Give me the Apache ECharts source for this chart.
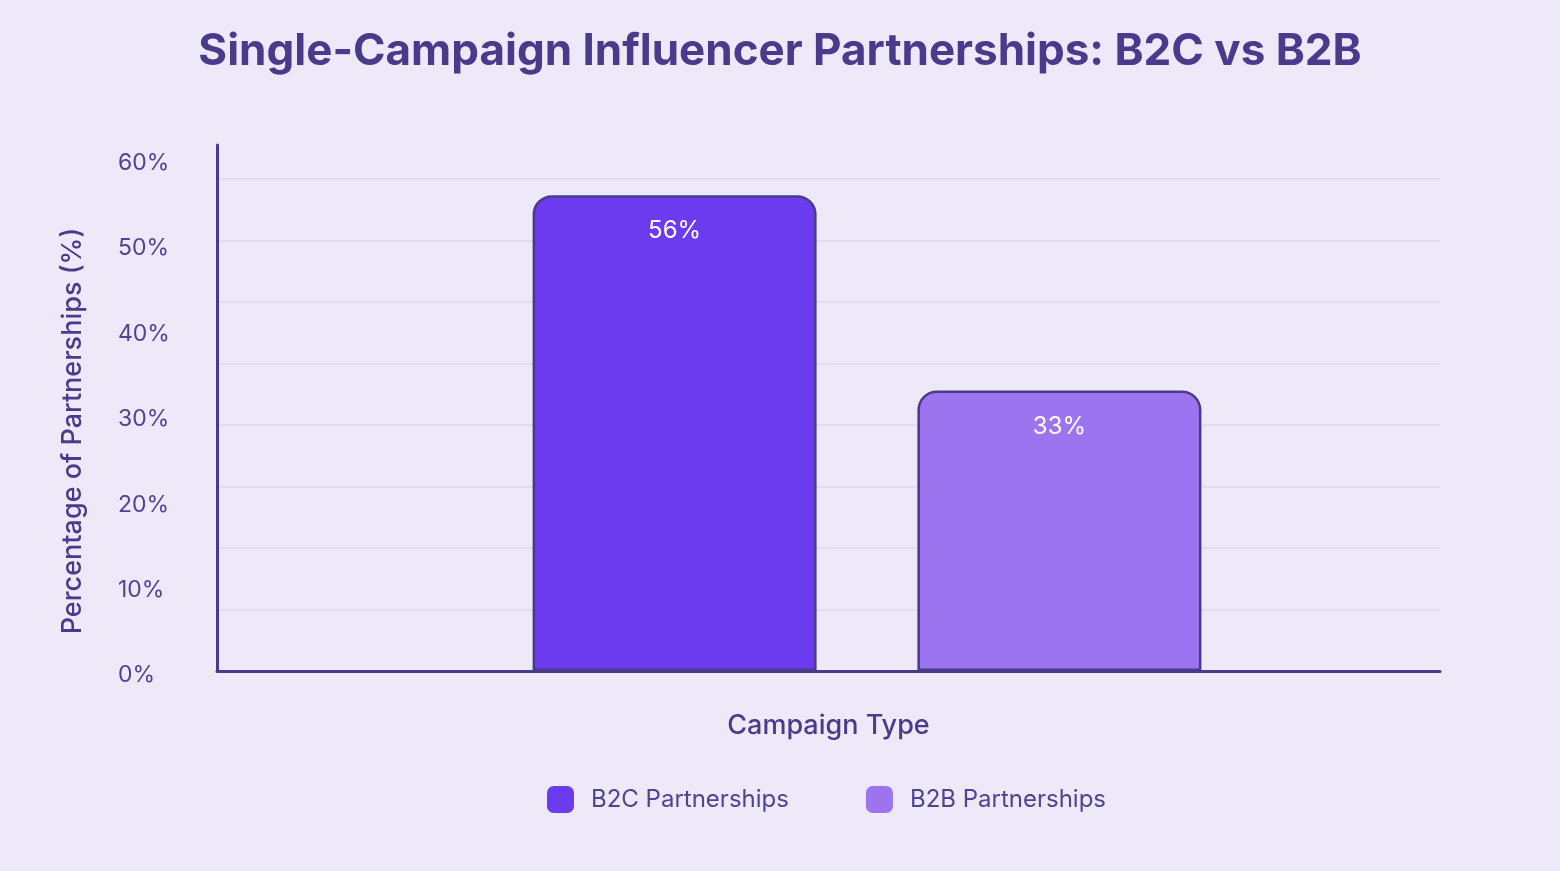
<!DOCTYPE html>
<html>
<head>
<meta charset="utf-8">
<script src="https://cdn.jsdelivr.net/npm/echarts@6/dist/echarts.min.js"></script>
<style>
html,body{margin:0;padding:0;background:#ede9f8;}
#chart{width:1560px;height:871px;}
</style>
</head>
<body>
<div id="chart"></div>
<script>
const titleText = 'Single-Campaign Influencer Partnerships: B2C vs B2B';
const categories = ['Campaign Type'];
const seriesNames = ['B2C Partnerships', 'B2B Partnerships'];
const b2cValues = [56];
const b2bValues = [33];
const yTickValues = [0, 10, 20, 30, 40, 50, 60];

const FONT = 'Inter, Lato, "Noto Sans", sans-serif';
const DARK = '#4b3a8c';
const LABEL = '#4f4490';
const chart = echarts.init(document.getElementById('chart'), null, {renderer: 'canvas'});

const gridColors = ['rgba(0,0,0,0)'];
for (let i = 0; i < 8; i++) gridColors.push('#dcd6f6');
gridColors.push('rgba(0,0,0,0)');

chart.setOption({
  backgroundColor: '#ede9f8',
  textStyle: {fontFamily: FONT},
  title: {
    text: titleText,
    left: 'center',
    top: 25,
    textStyle: {fontFamily: FONT, fontSize: 44, fontWeight: 'bold', color: DARK}
  },
  legend: {
    data: seriesNames,
    left: 547,
    top: 786,
    padding: 0,
    itemWidth: 27,
    itemHeight: 27,
    itemGap: 77,
    icon: 'roundRect',
    itemStyle: {borderWidth: 0},
    textStyle: {fontFamily: FONT, fontSize: 24, color: LABEL, padding: [0, 0, 0, 12]}
  },
  grid: [
    {left: 217, right: 120, top: 145, bottom: 200, containLabel: false},
    {left: 294, right: 120, top: 145, bottom: 200, containLabel: false}
  ],
  xAxis: [
    {
      type: 'category',
      gridIndex: 0,
      data: categories,
      name: 'Campaign Type',
      nameLocation: 'middle',
      nameGap: 41,
      nameTextStyle: {fontFamily: FONT, fontSize: 27, fontWeight: 500, color: DARK},
      axisLine: {show: true, lineStyle: {color: DARK, width: 3}},
      axisTick: {show: false},
      axisLabel: {show: false},
      splitLine: {show: false},
      z: 5
    },
    {
      type: 'category',
      gridIndex: 1,
      data: categories,
      show: false
    }
  ],
  yAxis: [
    {
      type: 'value',
      gridIndex: 0,
      min: 0,
      max: 61.6,
      interval: 10,
      name: 'Percentage of Partnerships (%)',
      nameLocation: 'middle',
      nameGap: 131,
      nameTextStyle: {fontFamily: FONT, fontSize: 27, fontWeight: 500, color: DARK, padding: [0, 46, 0, 0]},
      axisLine: {show: true, lineStyle: {color: DARK, width: 3}},
      axisTick: {show: false},
      splitLine: {show: false},
      axisLabel: {
        align: 'left',
        verticalAlign: 'top',
        lineHeight: 9,
        margin: 99,
        fontSize: 23,
        fontFamily: FONT,
        color: LABEL,
        formatter: function (v) { return yTickValues.indexOf(v) >= 0 ? v + '%' : ''; }
      }
    },
    {
      type: 'value',
      gridIndex: 0,
      min: 0,
      max: 8.553,
      interval: 1,
      axisLine: {show: false},
      axisTick: {show: false},
      axisLabel: {show: false},
      splitLine: {show: true, lineStyle: {color: gridColors, width: 1.5}}
    },
    {
      type: 'value',
      gridIndex: 1,
      min: 0,
      max: 61.9,
      show: false
    }
  ],
  series: [
    {
      name: seriesNames[0],
      type: 'bar',
      xAxisIndex: 1,
      yAxisIndex: 2,
      data: b2cValues,
      barWidth: 284,
      barGap: '35.5%',
      itemStyle: {color: '#6c3aef', borderColor: '#4a3a8a', borderWidth: 2.5, borderRadius: [18, 18, 0, 0]},
      label: {show: true, position: 'insideTop', distance: 24, color: '#ffffff', fontSize: 24, fontFamily: FONT, formatter: '{c}%'}
    },
    {
      name: seriesNames[1],
      type: 'bar',
      xAxisIndex: 1,
      yAxisIndex: 2,
      data: b2bValues,
      barWidth: 284,
      barGap: '35.5%',
      itemStyle: {color: '#9d74f0', borderColor: '#4a3a8a', borderWidth: 2.5, borderRadius: [18, 18, 0, 0]},
      label: {show: true, position: 'insideTop', distance: 24, color: '#ffffff', fontSize: 24, fontFamily: FONT, formatter: '{c}%'}
    }
  ]
});
</script>
</body>
</html>
